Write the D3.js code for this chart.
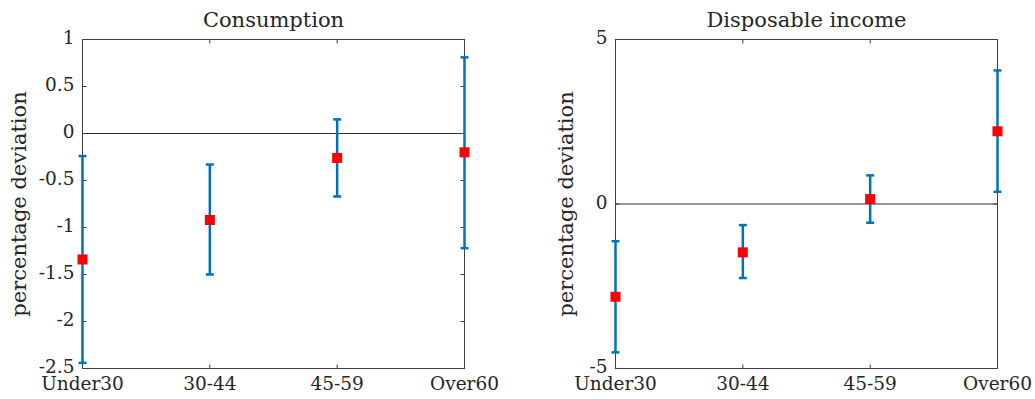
<!DOCTYPE html>
<html>
<head>
<meta charset="utf-8">
<script src="https://cdn.jsdelivr.net/npm/d3@7.9.0/dist/d3.min.js"></script>
<style>
  body { margin: 0; background: #fff; }
  svg text { font-family: "DejaVu Serif", serif; fill: #262626; }
</style>
</head>
<body>
<svg id="chart" width="1035" height="399"></svg>
<script>
// Data
const categories = ["Under30", "30-44", "45-59", "Over60"];

const consMean = [-1.34, -0.92, -0.26, -0.20];
const consLow = [-2.44, -1.50, -0.67, -1.22];
const consHigh = [-0.24, -0.33, 0.15, 0.81];
const consTicks = [-2.5, -2, -1.5, -1, -0.5, 0, 0.5, 1];

const incMean = [-2.82, -1.47, 0.15, 2.21];
const incLow = [-4.51, -2.25, -0.57, 0.37];
const incHigh = [-1.13, -0.64, 0.87, 4.06];
const incTicks = [-5, 0, 5];

const svg = d3.select("#chart");

// Panel drawing
function drawPanel(opts) {
  const { left, right, top, bottom, domain, ticks, title, mean, low, high, labelX } = opts;
  const x = d3.scalePoint().domain(categories).range([left, right]).padding(0);
  const y = d3.scaleLinear().domain(domain).range([bottom, top]);
  const g = svg.append("g");
  const tickLen = 4;
  const axisColor = "#404040";

  // zero line
  g.append("line")
    .attr("x1", left).attr("x2", right)
    .attr("y1", y(0)).attr("y2", y(0))
    .attr("stroke", "#333").attr("stroke-width", 1);

  // box
  g.append("rect")
    .attr("x", left).attr("y", top)
    .attr("width", right - left).attr("height", bottom - top)
    .attr("fill", "none").attr("stroke", axisColor).attr("stroke-width", 1);

  // y ticks (inward, both sides)
  ticks.forEach((t) => {
    g.append("line").attr("x1", left).attr("x2", left + tickLen)
      .attr("y1", y(t)).attr("y2", y(t)).attr("stroke", axisColor);
    g.append("line").attr("x1", right).attr("x2", right - tickLen)
      .attr("y1", y(t)).attr("y2", y(t)).attr("stroke", axisColor);
    g.append("text")
      .attr("x", left - 8).attr("y", y(t) - 2)
      .attr("text-anchor", "end").attr("dominant-baseline", "central")
      .attr("font-size", 18.5)
      .text(String(t));
  });

  // x ticks (inward, top and bottom)
  categories.forEach((c) => {
    g.append("line").attr("x1", x(c)).attr("x2", x(c))
      .attr("y1", bottom).attr("y2", bottom - tickLen).attr("stroke", axisColor);
    g.append("line").attr("x1", x(c)).attr("x2", x(c))
      .attr("y1", top).attr("y2", top + tickLen).attr("stroke", axisColor);
    g.append("text")
      .attr("x", x(c)).attr("y", 390)
      .attr("text-anchor", "middle")
      .attr("font-size", 18.5)
      .text(c);
  });

  // title
  g.append("text")
    .attr("x", (left + right) / 2).attr("y", 27)
    .attr("text-anchor", "middle")
    .attr("font-size", 21)
    .attr("fill", "#000")
    .text(title);

  // y label
  g.append("text")
    .attr("transform", `translate(${labelX},${(top + bottom) / 2}) rotate(-90)`)
    .attr("text-anchor", "middle")
    .attr("font-size", 21)
    .text("percentage deviation");

  // error bars
  const blue = "#0072BD";
  const capW = 4;
  categories.forEach((c, i) => {
    const cx = x(c);
    g.append("line").attr("x1", cx).attr("x2", cx)
      .attr("y1", y(low[i])).attr("y2", y(high[i]))
      .attr("stroke", blue).attr("stroke-width", 2.5);
    [low[i], high[i]].forEach((v) => {
      g.append("line").attr("x1", cx - capW).attr("x2", cx + capW)
        .attr("y1", y(v)).attr("y2", y(v))
        .attr("stroke", blue).attr("stroke-width", 2.5);
    });
  });

  // markers
  const ms = 10;
  g.selectAll("rect.pt")
    .data(mean)
    .join("rect")
    .attr("class", "pt")
    .attr("x", (d, i) => x(categories[i]) - ms / 2)
    .attr("y", (d) => y(d) - ms / 2)
    .attr("width", ms).attr("height", ms)
    .attr("fill", "#ff0000");
}

drawPanel({
  left: 82.5, right: 464.5, top: 39.5, bottom: 368.5,
  domain: [-2.5, 1], ticks: consTicks, title: "Consumption",
  mean: consMean, low: consLow, high: consHigh, labelX: 26
});

drawPanel({
  left: 615.5, right: 997.5, top: 39.5, bottom: 368.5,
  domain: [-5, 5], ticks: incTicks, title: "Disposable income",
  mean: incMean, low: incLow, high: incHigh, labelX: 573
});
</script>
</body>
</html>
